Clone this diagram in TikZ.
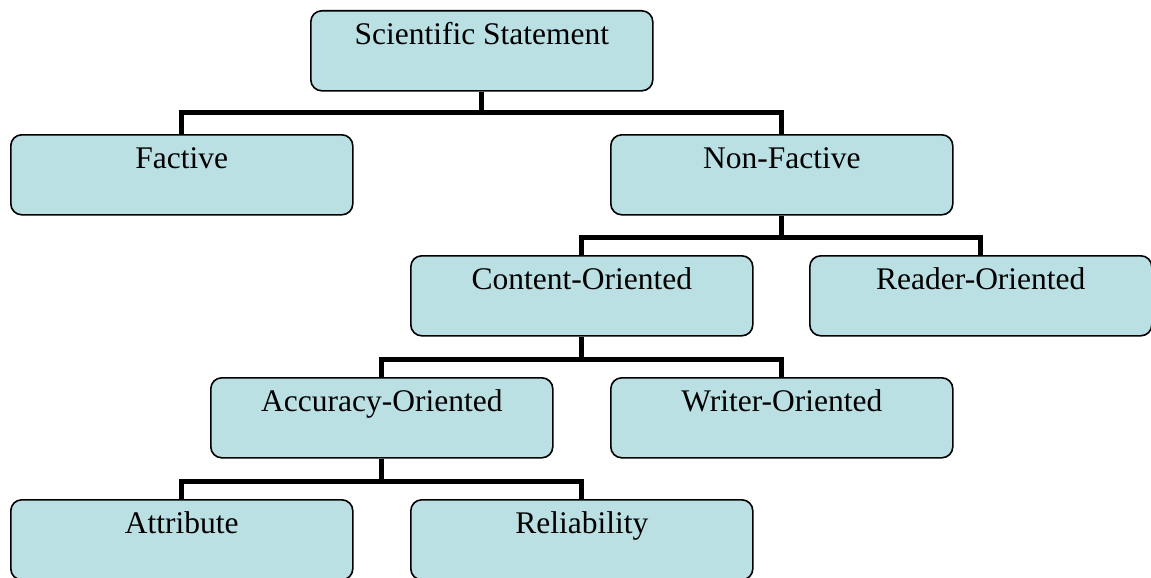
\documentclass[tikz,border=0pt]{standalone}
\usepackage{fontspec}
\setmainfont{Liberation Serif}
\definecolor{boxfill}{HTML}{BBE0E3}
\begin{document}
\begin{tikzpicture}[x=1pt,y=-1pt,
  catbox/.style={draw=black, line width=1.6pt, fill=boxfill, rounded corners=11pt,
    inner sep=0pt, minimum width=342pt, text height=34pt, text depth=46pt,
    font=\fontsize{31.5}{36}\selectfont, anchor=north west},
  link/.style={line width=5pt, line cap=butt}]
\useasboundingbox (0,0) rectangle (1151,578);
\node[catbox] (sci) at (310,10) {Scientific Statement};
\node[catbox] (fac) at (10,134) {Factive};
\node[catbox] (non) at (610,134) {Non-Factive};
\node[catbox] (con) at (410,255) {Content-Oriented};
\node[catbox] (rea) at (809,255) {Reader-Oriented};
\node[catbox] (acc) at (210,377) {Accuracy-Oriented};
\node[catbox] (wri) at (610,377) {Writer-Oriented};
\node[catbox] (att) at (10,499) {Attribute};
\node[catbox] (rel) at (410,499) {Reliability};
\draw[link] (sci.south) -- ++(0,21) -| (fac.north);
\draw[link] (sci.south) ++(0,21) -| (non.north);
\draw[link] (non.south) -- ++(0,22) -| (con.north);
\draw[link] (non.south) ++(0,22) -| (rea.north);
\draw[link] (con.south) -- ++(0,23) -| (acc.north);
\draw[link] (con.south) ++(0,23) -| (wri.north);
\draw[link] (acc.south) -- ++(0,23) -| (att.north);
\draw[link] (acc.south) ++(0,23) -| (rel.north);
\end{tikzpicture}
\end{document}
